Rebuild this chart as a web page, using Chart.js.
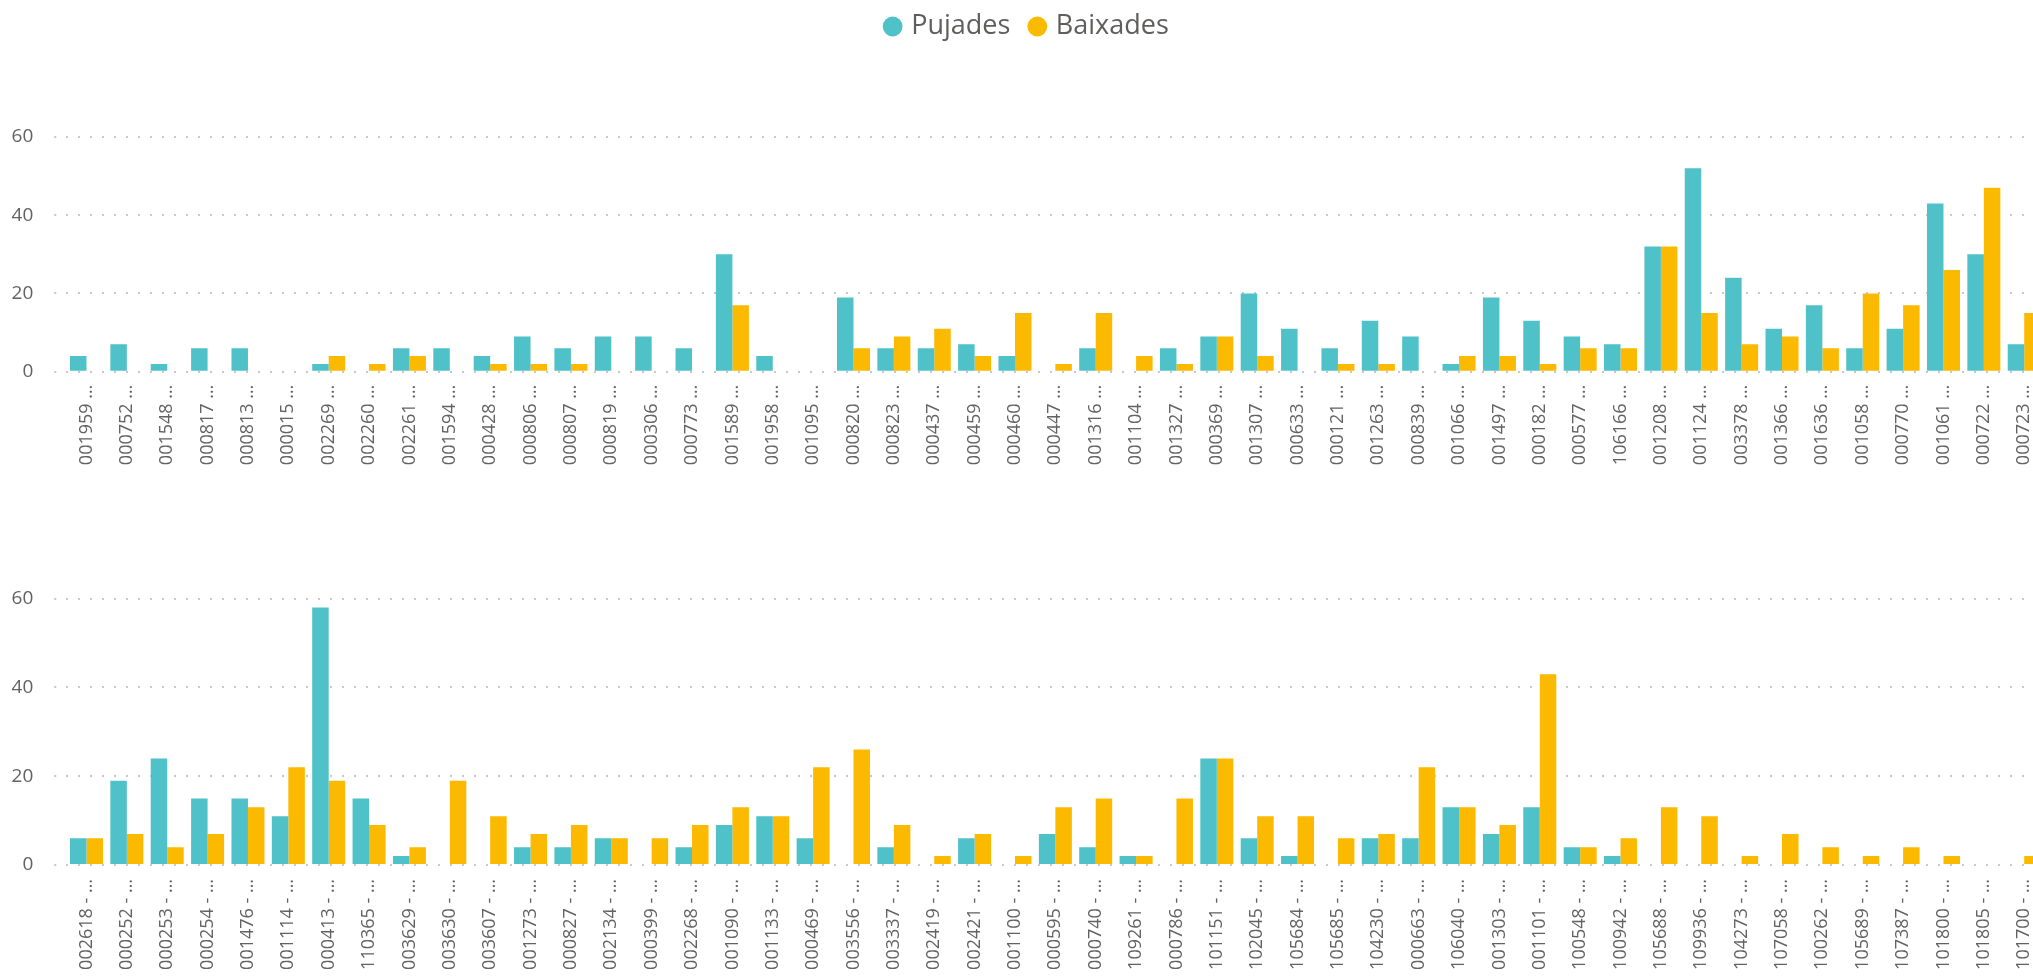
<!DOCTYPE html>
<html lang="ca">
<head>
<meta charset="utf-8">
<title>Pujades i baixades</title>
<script src="https://cdn.jsdelivr.net/npm/chart.js@4.4.1/dist/chart.umd.min.js"></script>
<style>
    html, body { margin: 0; padding: 0; background: #fff; overflow: hidden; }
    body { width: 2033px; height: 977px; position: relative; }
    .panel { position: absolute; left: 0; width: 2060px; }
    #topPanel { top: 0; height: 490px; }
    #bottomPanel { top: 490px; height: 520px; }
</style>
</head>
<body>
<div class="panel" id="topPanel"><canvas id="topChart"></canvas></div>
<div class="panel" id="bottomPanel"><canvas id="bottomChart"></canvas></div>

<script>
/* Pujades / Baixades per codi - two stacked column visuals */

const seriesNames = ['Pujades', 'Baixades'];
const yTicks = [0, 20, 40, 60];

// top visual
const topLabels = [
    '001959 …', '000752 …', '001548 …', '000817 …', '000813 …', '000015 …', '002269 …',
    '002260 …', '002261 …', '001594 …', '000428 …', '000806 …', '000807 …', '000819 …',
    '000306 …', '000773 …', '001589 …', '001958 …', '001095 …', '000820 …', '000823 …',
    '000437 …', '000459 …', '000460 …', '000447 …', '001316 …', '001104 …', '001327 …',
    '000369 …', '001307 …', '000633 …', '000121 …', '001263 …', '000839 …', '001066 …',
    '001497 …', '000182 …', '000577 …', '106166 …', '001208 …', '001124 …', '003378 …',
    '001366 …', '001636 …', '001058 …', '000770 …', '001061 …', '000722 …', '000723 …'
];
const topPujades = [4, 7, 2, 6, 6, 0, 2, 0, 6, 6, 4, 9, 6, 9, 9, 6, 30, 4, 0, 19, 6, 6, 7, 4, 0,
    6, 0, 6, 9, 20, 11, 6, 13, 9, 2, 19, 13, 9, 7, 32, 52, 24, 11, 17, 6, 11, 43, 30, 7];
const topBaixades = [0, 0, 0, 0, 0, 0, 4, 2, 4, 0, 2, 2, 2, 0, 0, 0, 17, 0, 0, 6, 9, 11, 4, 15, 2,
    15, 4, 2, 9, 4, 0, 2, 2, 0, 4, 4, 2, 6, 6, 32, 15, 7, 9, 6, 20, 17, 26, 47, 15];

// bottom visual
const bottomLabels = [
    '002618 - …', '000252 - …', '000253 - …', '000254 - …', '001476 - …', '001114 - …', '000413 - …',
    '110365 - …', '003629 - …', '003630 - …', '003607 - …', '001273 - …', '000827 - …', '002134 - …',
    '000399 - …', '002268 - …', '001090 - …', '001133 - …', '000469 - …', '003556 - …', '003337 - …',
    '002419 - …', '002421 - …', '001100 - …', '000595 - …', '000740 - …', '109261 - …', '000786 - …',
    '101151 - …', '102045 - …', '105684 - …', '105685 - …', '104230 - …', '000663 - …', '106040 - …',
    '001303 - …', '001101 - …', '100548 - …', '100942 - …', '105688 - …', '109936 - …', '104273 - …',
    '107058 - …', '100262 - …', '105689 - …', '107387 - …', '101800 - …', '101805 - …', '101700 - …'
];
const bottomPujades = [6, 19, 24, 15, 15, 11, 58, 15, 2, 0, 0, 4, 4, 6, 0, 4, 9, 11, 6, 0, 4, 0, 6, 0, 7,
    4, 2, 0, 24, 6, 2, 0, 6, 6, 13, 7, 13, 4, 2, 0, 0, 0, 0, 0, 0, 0, 0, 0, 0];
const bottomBaixades = [6, 7, 4, 7, 13, 22, 19, 9, 4, 19, 11, 7, 9, 6, 6, 9, 13, 11, 22, 26, 9, 2, 7, 2, 13,
    15, 2, 15, 24, 11, 11, 6, 7, 22, 13, 9, 43, 4, 6, 13, 11, 2, 7, 4, 2, 4, 2, 0, 2];

const PUJADES_COLOR = '#4FC1C9';
const BAIXADES_COLOR = '#FBB900';
const FONT = "'Segoe UI', 'Open Sans', sans-serif";
const charts = {};

// pushes the plot down below the legend (Chart.js has no margin option for it)
const legendSpacer = {
    id: 'legendSpacer',
    beforeInit(chart) {
        const originalFit = chart.legend.fit;
        chart.legend.fit = function fit() {
            originalFit.bind(chart.legend)();
            this.height += 87;
        };
    }
};

function buildConfig(labels, pujades, baixades, opts) {
    return {
        type: 'bar',
        data: {
            labels: labels,
            datasets: [
                { label: seriesNames[0], data: pujades, backgroundColor: PUJADES_COLOR },
                { label: seriesNames[1], data: baixades, backgroundColor: BAIXADES_COLOR }
            ]
        },
        options: {
            responsive: true,
            maintainAspectRatio: false,
            animation: false,
            categoryPercentage: 0.8175,
            barPercentage: 1.0,
            layout: { padding: { left: 12, right: 15.6, top: opts.padTop, bottom: 0 } },
            plugins: {
                tooltip: { enabled: false },
                legend: {
                    display: opts.legend,
                    position: 'top',
                    align: 'center',
                    labels: {
                        usePointStyle: true,
                        pointStyle: 'circle',
                        boxWidth: 10,
                        boxHeight: 14,
                        padding: 22,
                        color: '#605E5C',
                        font: { family: FONT, size: 27 }
                    }
                }
            },
            scales: {
                x: {
                    grid: { display: false, drawTicks: false },
                    border: { display: false },
                    ticks: {
                        autoSkip: false,
                        minRotation: 90,
                        maxRotation: 90,
                        padding: opts.labelPad,
                        color: '#626262',
                        font: { family: FONT, size: 18 }
                    },
                    afterFit: (scale) => { scale.height = opts.xHeight; }
                },
                y: {
                    min: 0,
                    max: 60,
                    afterBuildTicks: (scale) => { scale.ticks = yTicks.map(v => ({ value: v })); },
                    afterFit: (scale) => { scale.width = 54.3; },
                    grid: {
                        color: '#c8c8c8',
                        lineWidth: 2,
                        drawTicks: true,
                        tickLength: 12,
                        tickBorderDash: [2, 10]
                    },
                    border: { display: false, dash: [2, 10] },
                    ticks: {
                        padding: 21,
                        color: '#626262',
                        font: { family: FONT, size: 19 }
                    }
                }
            }
        },
        plugins: opts.legend ? [legendSpacer] : []
    };
}

function initializeCharts() {
    const createChart = (canvasId, config) => {
        const ctx = document.getElementById(canvasId);
        if (!ctx) return;
        if (charts[canvasId]) charts[canvasId].destroy();
        charts[canvasId] = new Chart(ctx, config);
        return charts[canvasId];
    };

    // negative top padding lets the wider legend spacing keep the legend near the top edge
    createChart('topChart', buildConfig(topLabels, topPujades, topBaixades,
        { legend: true, padTop: -9, xHeight: 118.3, labelPad: 13 }));

    createChart('bottomChart', buildConfig(bottomLabels, bottomPujades, bottomBaixades,
        { legend: false, padTop: 108.7, xHeight: 145, labelPad: 14 }));
}

document.addEventListener('DOMContentLoaded', initializeCharts);
</script>
</body>
</html>
